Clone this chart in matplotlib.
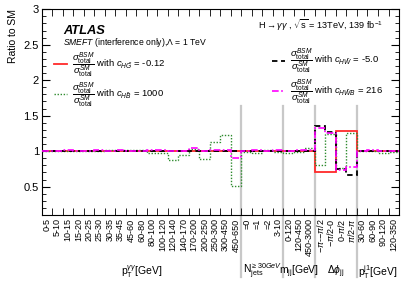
import numpy as np
import matplotlib
matplotlib.use("Agg")
import matplotlib.pyplot as plt
from matplotlib.lines import Line2D

plt.rcParams['font.family'] = ['Liberation Sans', 'DejaVu Sans']
plt.rcParams['mathtext.fontset'] = 'custom'
plt.rcParams['mathtext.rm'] = 'Liberation Sans'
plt.rcParams['mathtext.it'] = 'Liberation Sans:italic'
plt.rcParams['mathtext.bf'] = 'Liberation Sans:bold'

# bin labels, grouped by observable
pt_yy = ['0-5', '5-10', '10-15', '15-20', '20-25', '25-30', '30-35', '35-45', '45-60',
         '60-80', '80-100', '100-120', '120-140', '140-170', '170-200', '200-250',
         '250-300', '300-450', '450-650']
njets = ['=0', '=1', '=2', '3-10']
mjj = ['0-120', '120-450', '450-3000']
dphi = [r'$-\pi$-$-\pi/2$', r'$-\pi/2$-0', r'0-$\pi/2$', r'$\pi/2$-$\pi$']
pt_j1 = ['30-60', '60-90', '90-120', '120-350']
labels = pt_yy + njets + mjj + dphi + pt_j1

group_names = [r'p$_\mathrm{T}^{\gamma\gamma}$[GeV]', r'N$_\mathrm{jets}^{\geq 30GeV}$',
               r'm$_\mathrm{jj}$[GeV]', r'$\Delta\phi_\mathrm{jj}$', r'p$_\mathrm{T}^\mathrm{j1}$[GeV]']
group_sizes = [len(pt_yy), len(njets), len(mjj), len(dphi), len(pt_j1)]

# ratio to SM for each bin
r_hg = [1.0]*19 + [1.0, 1.0, 1.0, 1.0] + [1.0, 1.0, 1.0] + [0.71, 0.71, 1.29, 1.29] + [1.0, 1.0, 1.0, 1.0]
r_hb = [1.0, 1.0, 1.0, 1.0, 1.0, 1.0, 1.01, 1.02, 1.02, 1.02, 0.98, 0.98, 0.88, 0.95, 1.03,
        0.89, 1.13, 1.23, 0.51] + [0.99, 0.98, 1.01, 0.99] + [0.98, 0.99, 1.04] + \
       [0.81, 1.24, 0.76, 1.25] + [1.0, 1.0, 0.97, 0.99]
r_hw = [1.0]*18 + [1.0] + [1.0, 1.0, 1.0, 1.0] + [1.0, 1.0, 1.0] + [1.35, 1.27, 0.75, 0.67] + [1.0, 1.0, 1.0, 1.0]
r_hwb = [1.0, 1.0, 1.01, 1.0, 1.0, 1.01, 1.0, 1.01, 1.0, 1.0, 1.01, 1.02, 1.0, 1.0, 1.05,
         1.0, 1.01, 1.02, 0.9] + [1.0, 1.02, 1.0, 1.01] + [1.0, 1.01, 1.02] + \
        [1.33, 1.25, 0.74, 0.78] + [1.0, 1.01, 1.0, 1.0]

edges = np.arange(len(labels) + 1)

fig = plt.figure(figsize=(4.15, 2.89), dpi=100)
ax = fig.add_axes([0.1005, 0.256, 0.861, 0.712])

ax.stairs(r_hg, edges, baseline=None, color='#ff2a2a', lw=1.3, zorder=3)
ax.stairs(r_hb, edges, baseline=None, color='#2e8b2e', lw=1.0, ls=(0, (1, 1.2)), zorder=4)
ax.stairs(r_hw, edges, baseline=None, color='black', lw=1.3, ls=(0, (3, 2)), zorder=5)
ax.stairs(r_hwb, edges, baseline=None, color='#ff00ff', lw=1.2, ls=(0, (4, 1.5, 1, 1.5)), zorder=6)

# group separators
bounds = np.cumsum(group_sizes)[:-1]
for b in bounds:
    ax.axvline(b, ymin=-0.30, ymax=0.53, color='#c8c8c8', lw=1.6, clip_on=False, zorder=0)

ax.set_xlim(0, len(labels))
ax.set_ylim(0.1, 3.0)

ax.set_xticks(np.arange(len(labels)) + 0.5)
ax.set_xticklabels(labels, rotation=90, fontsize=6.5)
ax.set_xticks(edges, minor=True)
ax.tick_params(axis='x', which='major', length=0, pad=2.5)
ax.tick_params(axis='x', which='minor', length=5, direction='in', top=True, bottom=True)

ax.set_yticks([0.5, 1, 1.5, 2, 2.5, 3])
ax.set_yticklabels(['0.5', '1', '1.5', '2', '2.5', '3'], fontsize=8)
ax.set_yticks(np.arange(0.1, 3.0, 0.1), minor=True)
ax.tick_params(axis='y', which='major', length=6, direction='in', left=True, right=True, pad=2)
ax.tick_params(axis='y', which='minor', length=3, direction='in', left=True, right=True)

ax.set_ylabel('Ratio to SM', fontsize=7.5, loc='top', labelpad=4)

start = 0
for name, n in zip(group_names, group_sizes):
    ax.text(start + n / 2, -0.275, name, transform=ax.get_xaxis_transform(),
            ha='center', va='center', fontsize=7.5)
    start += n

ax.text(0.06, 0.88, 'ATLAS', transform=ax.transAxes, fontsize=9.3,
        fontweight='bold', fontstyle='italic')
ax.text(0.06, 0.825, r'$SMEFT$ (interference only),$\Lambda$ = 1 TeV', transform=ax.transAxes,
        fontsize=6.2)
ax.text(0.955, 0.905, r'H$\rightarrow\gamma\gamma$ , $\sqrt{\mathrm{s}}$ = 13TeV, 139 fb$^{-1}$',
        transform=ax.transAxes, fontsize=6.6, ha='right')

frac = r'$\dfrac{\sigma^{BSM}_\mathrm{total}}{\sigma^{SM}_\mathrm{total}}$'
h1 = [Line2D([], [], color='#ff2a2a', lw=1.3),
      Line2D([], [], color='#2e8b2e', lw=1.0, ls=(0, (1, 1.2)))]
l1 = [frac + r' with $c_{H\tilde{G}}$ = -0.12', frac + r' with $c_{H\tilde{B}}$ = 1000']
h2 = [Line2D([], [], color='black', lw=1.3, ls=(0, (3, 2))),
      Line2D([], [], color='#ff00ff', lw=1.2, ls=(0, (4, 1.5, 1, 1.5)))]
l2 = [frac + r' with $c_{H\tilde{W}}$ = -5.0', frac + r' with $c_{H\tilde{W}B}$ = 216']

leg1 = ax.legend(h1, l1, loc='upper left', bbox_to_anchor=(0.035, 0.80), frameon=False,
                 fontsize=6.8, handlelength=1.4, handletextpad=0.45, labelspacing=0.15,
                 borderpad=0, borderaxespad=0)
ax.add_artist(leg1)
ax.legend(h2, l2, loc='upper left', bbox_to_anchor=(0.645, 0.815), frameon=False,
          fontsize=6.8, handlelength=1.4, handletextpad=0.45, labelspacing=0.15,
          borderpad=0, borderaxespad=0)

fig.savefig('out.png', dpi=100)
